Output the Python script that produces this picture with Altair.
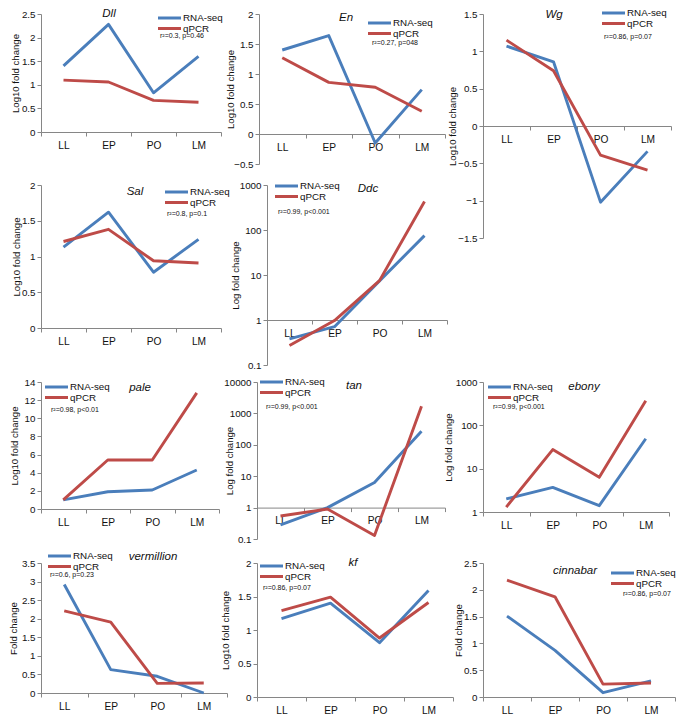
import altair as alt
import pandas as pd

STAGES = ["LL", "EP", "PO", "LM"]
SERIES = ["RNA-seq", "qPCR"]
BLUE = "#4a7ebb"
RED = "#be4b48"
FONT = "Liberation Sans"
AXC = "#868686"
TXT = "#111111"

# ---- values ----
dll_rna = [1.40, 2.28, 0.83, 1.60]
dll_qpcr = [1.10, 1.06, 0.67, 0.63]
en_rna = [1.40, 1.64, -0.15, 0.74]
en_qpcr = [1.27, 0.86, 0.78, 0.38]
wg_rna = [1.07, 0.86, -1.02, -0.34]
wg_qpcr = [1.15, 0.74, -0.39, -0.59]
sal_rna = [1.13, 1.62, 0.78, 1.24]
sal_qpcr = [1.21, 1.38, 0.94, 0.91]
ddc_rna = [0.38, 0.71, 7.4, 75]
ddc_qpcr = [0.27, 0.97, 7.5, 430]
pale_rna = [1.0, 1.9, 2.1, 4.3]
pale_qpcr = [1.0, 5.4, 5.4, 12.8]
tan_rna = [0.28, 1.0, 6.3, 270]
tan_qpcr = [0.54, 0.9, 0.13, 1700]
ebony_rna = [2.0, 3.7, 1.4, 49]
ebony_qpcr = [1.3, 27.6, 6.3, 370]
verm_rna = [2.92, 0.63, 0.45, 0.0]
verm_qpcr = [2.21, 1.91, 0.26, 0.27]
kf_rna = [1.17, 1.40, 0.81, 1.59]
kf_qpcr = [1.29, 1.49, 0.88, 1.41]
cinn_rna = [1.51, 0.87, 0.08, 0.30]
cinn_qpcr = [2.18, 1.87, 0.24, 0.26]

TITLE_LOG10 = "Log10 fold change"
TITLE_LOG = "Log fold change"
TITLE_FC = "Fold change"

ONE = pd.DataFrame({"k": [0]})


def txt(s, x, y, size, style="normal", align="left"):
    return alt.Chart(pd.DataFrame({"t": [s]})).mark_text(
        font=FONT, fontSize=size, fontStyle=style, color=TXT,
        align=align, baseline="middle").encode(
        text="t:N", x=alt.value(x), y=alt.value(y))


def legend_layers(lx, ly, gap=10.5):
    out = []
    for i, (name, col) in enumerate(zip(SERIES, [BLUE, RED])):
        yy = ly + i * gap
        out.append(alt.Chart(ONE).mark_rule(strokeWidth=3, color=col).encode(
            x=alt.value(lx), x2=alt.value(lx + 23), y=alt.value(yy)))
        out.append(txt(name, lx + 25, yy, 9.8))
    return out


def panel(gene, stats, rna, qpcr, ytitle, ytype, domain, ticks, w, h,
          xoff, tdist, leg, tpos, spos):
    df = pd.DataFrame({
        "stage": STAGES * 2,
        "series": [SERIES[0]] * 4 + [SERIES[1]] * 4,
        "value": list(rna) + list(qpcr),
    })
    if ytype == "log":
        yscale = alt.Scale(type="log", domain=domain, nice=False)
    else:
        yscale = alt.Scale(type="linear", domain=domain, nice=False, zero=False)
    ext = tdist - 5
    lines = alt.Chart(df).mark_line(strokeWidth=2.9, strokeJoin="round").encode(
        x=alt.X("stage:N", sort=STAGES,
                scale=alt.Scale(type="band", paddingInner=0, paddingOuter=0),
                axis=alt.Axis(title=None, tickBand="extent", offset=xoff,
                              labelAngle=0, domainColor=AXC, tickColor=AXC,
                              tickSize=4, labelFont=FONT, labelFontSize=10.2,
                              labelColor=TXT, labelPadding=4)),
        y=alt.Y("value:Q", scale=yscale,
                axis=alt.Axis(title=ytitle, values=ticks, format="~g",
                              grid=False, domainColor=AXC, tickColor=AXC,
                              tickSize=4, labelFont=FONT, labelFontSize=9.8,
                              labelColor=TXT, labelPadding=2,
                              minExtent=ext, maxExtent=ext,
                              titleFont=FONT, titleFontSize=9.6,
                              titleFontWeight="normal", titleColor=TXT,
                              titlePadding=0)),
        color=alt.Color("series:N",
                        scale=alt.Scale(domain=SERIES, range=[BLUE, RED]),
                        legend=None),
    )
    layers = [lines] + legend_layers(*leg) + [
        txt(gene, tpos[0], tpos[1], 11.5, "italic", "center"),
        txt(stats, spos[0], spos[1], 7),
    ]
    return alt.layer(*layers).properties(width=w, height=h)


LIN = "linear"
dll = panel("Dll", "r²=0.3, p=0.46", dll_rna, dll_qpcr, TITLE_LOG10, LIN,
            [0, 2.5], [0, 0.5, 1, 1.5, 2, 2.5], 180, 118, 0, 26,
            (117, 4), (68, 0), (119, 22))
en = panel("En", "r²=0.27, p=048", en_rna, en_qpcr, TITLE_LOG10, LIN,
           [-0.5, 2], [-0.5, 0, 0.5, 1, 1.5, 2], 186, 150, -30, 29,
           (109, 9), (87, 4), (113, 29))
wg = panel("Wg", "r²=0.86, p=0.07", wg_rna, wg_qpcr, TITLE_LOG10, LIN,
           [-1.5, 1.5], [-1.5, -1, -0.5, 0, 0.5, 1, 1.5], 188, 224, -112, 31,
           (119, -1), (71, 1), (121, 23))
sal = panel("Sal", "r²=0.8, p=0.1", sal_rna, sal_qpcr, TITLE_LOG10, LIN,
            [0, 2], [0, 0.5, 1, 1.5, 2], 180, 143, 0, 25,
            (124, 7), (94, 7), (126, 29))
ddc = panel("Ddc", "r²=0.99, p<0.001", ddc_rna, ddc_qpcr, TITLE_LOG, "log",
            [0.1, 1000], [0.1, 1, 10, 100, 1000], 180, 180, -45, 32,
            (8, 1), (101, 4), (11, 27))
pale = panel("pale", "r²=0.98, p<0.01", pale_rna, pale_qpcr, TITLE_LOG10, LIN,
             [0, 14], [0, 2, 4, 6, 8, 10, 12, 14], 178, 127, 0, 27,
             (4, 5), (99, 6), (10, 28))
tan = panel("tan", "r²=0.99, p<0.001", tan_rna, tan_qpcr, TITLE_LOG, "log",
            [0.1, 10000], [0.1, 1, 10, 100, 1000, 10000], 188, 157, -31.4, 28,
            (3, 0), (97, 4), (9, 25))
ebony = panel("ebony", "r²=0.99, p<0.001", ebony_rna, ebony_qpcr, TITLE_LOG,
              "log", [1, 1000], [1, 10, 100, 1000], 186, 130, 0, 35,
              (5, 5), (101, 5), (10, 25))
verm = panel("vermillion", "r²=0.6, p=0.23", verm_rna, verm_qpcr, TITLE_FC,
             LIN, [0, 3.5], [0, 0.5, 1, 1.5, 2, 2.5, 3, 3.5], 186, 130, 0, 28,
             (7, -7), (112, -6), (9, 12))
kf = panel("kf", "r²=0.86, p=0.07", kf_rna, kf_qpcr, TITLE_LOG10, LIN,
           [0, 2], [0, 0.5, 1, 1.5, 2], 196, 134, 0, 32,
           (3, 3), (96, 0), (6, 25))
cinn = panel("cinnabar", "r²=0.86, p=0.07", cinn_rna, cinn_qpcr, TITLE_FC,
             LIN, [0, 2.5], [0, 0.5, 1, 1.5, 2, 2.5], 192, 134, 0, 25,
             (128, 10), (92, 8), (140, 31))

RES = dict(x="independent", y="independent")

row1 = alt.hconcat(dll, en, spacing=38, bounds="flush").resolve_scale(**RES)
row2 = alt.hconcat(sal, ddc, spacing=46, bounds="flush").resolve_scale(**RES)
top_left = alt.vconcat(row1, row2, spacing=11).resolve_scale(**RES)
top = alt.hconcat(top_left, wg, spacing=-1).resolve_scale(**RES)
row3 = alt.hconcat(pale, tan, ebony, spacing=38, bounds="flush").resolve_scale(**RES)
row4 = alt.hconcat(verm, kf, cinn, spacing=30, bounds="flush").resolve_scale(**RES)

chart = alt.vconcat(top, row3, row4, spacing=7).resolve_scale(
    **RES).configure_view(stroke=None).properties(padding=0, background="white")

chart.save("out.html", embed_options={"renderer": "svg", "actions": False})
